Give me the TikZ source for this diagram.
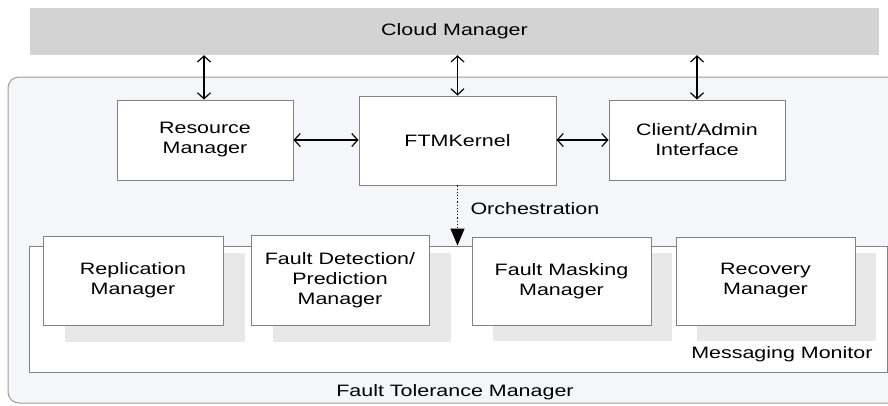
\documentclass[tikz,border=0pt]{standalone}
\usepackage{fontspec}
\setmainfont[FakeStretch=1.3]{Liberation Sans}
\usetikzlibrary{arrows.meta}
\definecolor{ftmfill}{RGB}{245,246,250}
\definecolor{cloudgray}{RGB}{211,211,211}
\definecolor{shadowgray}{RGB}{232,232,232}
\definecolor{edgegray}{RGB}{130,130,130}
\begin{document}
\begin{tikzpicture}[x=1pt,y=-1pt,
  font=\fontsize{16.5}{20}\selectfont,
  block/.style={draw=edgegray,line width=0.9pt,fill=white,align=center,inner sep=0pt},
  shade box/.style={fill=shadowgray,draw=none},
  dbl/.style={line width=1.2pt,{Straight Barb[length=6pt,width=13pt]}-{Straight Barb[length=6pt,width=13pt]}},
  orch/.style={line width=1.2pt,dotted,-{Triangle[length=17pt,width=14pt]}}]
\useasboundingbox (0,0) rectangle (888,405);
\begin{scope}
\clip (0,0) rectangle (888,405);
% outer Fault Tolerance Manager container
\draw[draw=edgegray!80,line width=1pt,fill=ftmfill,rounded corners=11pt] (8,77) rectangle (910,403);
\end{scope}

% cloud manager bar
\node[fill=cloudgray,minimum width=849pt,minimum height=47pt,inner sep=0pt] (cloud) at (454.5,31.5) {Cloud Manager};

% upper row
\node[block,minimum width=176pt,minimum height=80pt] (rm) at (205,140) {Resource\\Manager};
\node[block,minimum width=197pt,minimum height=89pt] (ftm) at (457.5,140.5) {FTMKernel};
\node[block,minimum width=176pt,minimum height=80pt] (cai) at (697,140) {Client/Admin\\Interface};

% messaging monitor
\node[block,minimum width=858pt,minimum height=126pt] (mm) at (458,309) {};
\node[anchor=east] (mmlabel) at (876,354) {Messaging Monitor};
\node (ftmlabel) at (455,392) {Fault Tolerance Manager};

% shadows of the managers
\fill[shade box] (65,253) rectangle (245,342);
\fill[shade box] (273,253) rectangle (451,342);
\fill[shade box] (493,253) rectangle (672,341);
\fill[shade box] (697,253) rectangle (876,341);

% managers
\node[block,minimum width=180pt,minimum height=89pt] (rep) at (133,280.5) {Replication\\Manager};
\node[block,minimum width=178pt,minimum height=90pt] (fdp) at (340,280) {Fault Detection/\\Prediction\\Manager};
\node[block,minimum width=179pt,minimum height=88pt] (fmm) at (561.5,281) {Fault Masking\\Manager};
\node[block,minimum width=179pt,minimum height=88pt] (rec) at (765.5,281) {Recovery\\Manager};

% connectors
\draw[dbl] (cloud.south -| 204,0) -- (rm.north -| 204,0);
\draw[dbl] (cloud.south -| ftm.north) -- (ftm.north);
\draw[dbl] (cloud.south -| cai.north) -- (cai.north);
\draw[dbl] (rm.east) -- (ftm.west |- rm.east);
\draw[dbl] (ftm.east |- cai.west) -- (cai.west);
\draw[orch] (ftm.south) -- (ftm.south |- mm.north);
\node[anchor=west] (orchlabel) at (467,209) {Orchestration};
\end{tikzpicture}
\end{document}
